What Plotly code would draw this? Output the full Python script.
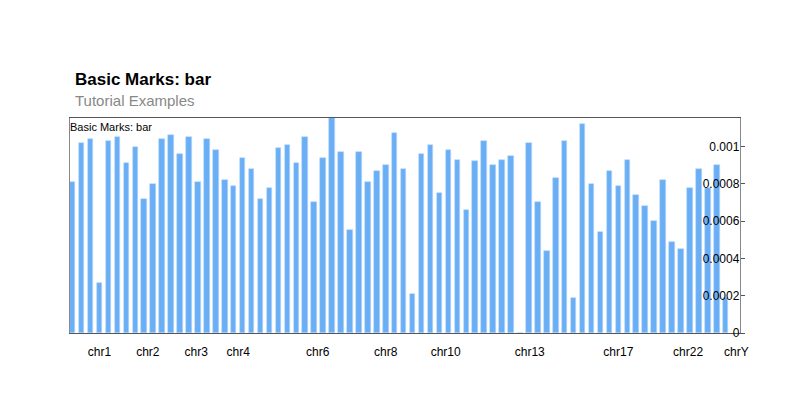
import plotly.graph_objects as go

values = [0.00081, 0.00102, 0.00104, 0.00027, 0.00103, 0.00105, 0.00091, 0.00100, 0.00072, 0.00080,
          0.00104, 0.00106, 0.00096, 0.00105, 0.00081, 0.00104, 0.00098, 0.00082, 0.00079, 0.00094,
          0.00088, 0.00072, 0.00078, 0.00099, 0.00101, 0.00091, 0.00105, 0.00070, 0.00094, 0.00118,
          0.00097, 0.00055, 0.00097, 0.00081, 0.00087, 0.00090, 0.00107, 0.00088, 0.00021, 0.00096,
          0.00101, 0.00075, 0.00098, 0.00093, 0.00066, 0.00092, 0.00103, 0.00090, 0.00093, 0.00095,
          0.0, 0.00102, 0.00070, 0.00044, 0.00083, 0.00103, 0.00019, 0.00112, 0.00080, 0.00054,
          0.00087, 0.00079, 0.00093, 0.00074, 0.00068, 0.00060, 0.00082, 0.00049, 0.00045, 0.00078,
          0.00088, 0.00078, 0.00090, 0.00019]
positions = list(range(len(values)))
tick_pos = [3, 8.4, 13.8, 18.5, 27.4, 35, 41.7, 51.1, 61, 68.8, 74.2]
tick_text = ["chr1", "chr2", "chr3", "chr4", "chr6", "chr8", "chr10", "chr13", "chr17", "chr22", "chrY"]
y_ticks = [0, 0.0002, 0.0004, 0.0006, 0.0008, 0.001]
y_text = ["0", "0.0002", "0.0004", "0.0006", "0.0008", "0.001"]

L, R, T, B = 62, 60, 110, 91
W, H = 792, 416

fig = go.Figure(go.Bar(x=positions, y=values, width=0.62,
                       marker=dict(color="#6aaef5", line=dict(width=0.6, color="#b7d7fa"))))

fig.update_layout(
    width=W, height=H,
    margin=dict(l=L, r=R, t=T, b=B, autoexpand=False),
    paper_bgcolor="white", plot_bgcolor="white",
    font=dict(family="Liberation Sans, Arial", size=12, color="black"),
    showlegend=False,
    bargap=0,
    annotations=[
        dict(text="<b>Basic Marks: bar</b>", x=(65 - L) / (W - L - R), y=(H - 71 - B) / (H - T - B),
             xref="paper", yref="paper", showarrow=False, font=dict(size=17),
             xanchor="left", yanchor="middle"),
        dict(text="Tutorial Examples", x=(65 - L) / (W - L - R), y=(H - 93 - B) / (H - T - B),
             xref="paper", yref="paper", showarrow=False, font=dict(size=15, color="#888888"),
             xanchor="left", yanchor="middle"),
        dict(text="Basic Marks: bar", x=0, y=1, xref="paper", yref="paper", xshift=-2, yshift=-1,
             showarrow=False, font=dict(size=11), xanchor="left", yanchor="top"),
    ],
)

fig.update_xaxes(range=[-0.3, 74.6], tickvals=tick_pos, ticktext=tick_text, ticks="",
                 showgrid=False, zeroline=False, showline=True, linecolor="#555555",
                 mirror=True, tickfont=dict(size=12, color="black"), ticklabelstandoff=8)
fig.update_yaxes(range=[0, 0.001153], side="right", tickvals=y_ticks, ticktext=y_text,
                 ticks="outside", ticklen=4, tickcolor="#555555", ticklabelposition="inside",
                 ticklabeloverflow="allow",
                 showgrid=False, zeroline=False, showline=True, linecolor="#888888",
                 mirror=True, tickfont=dict(size=12, color="black"))

fig.write_html("out.html")
